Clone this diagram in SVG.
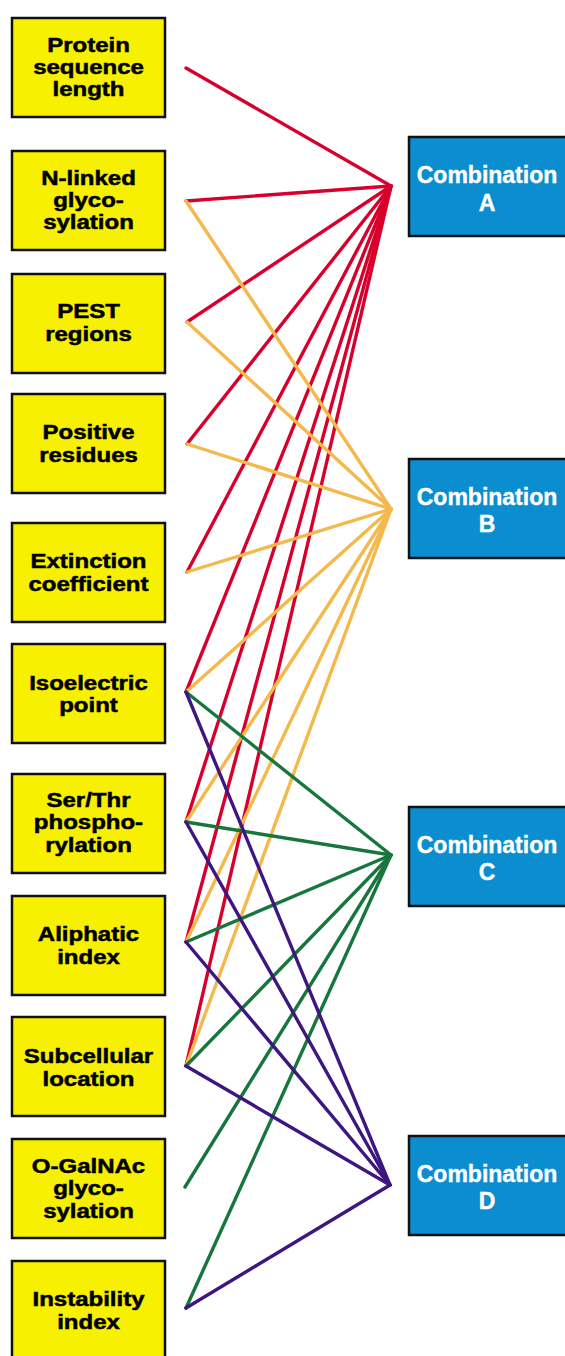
<svg xmlns="http://www.w3.org/2000/svg" width="565" height="1356" viewBox="0 0 565 1356">
<style>
.feat rect{fill:#f7f000;stroke:#111;stroke-width:2.5}
.feat text{font-family:"Liberation Sans",Arial,sans-serif;font-weight:bold;font-size:20px;fill:#000;stroke:#000;stroke-width:0.5;text-anchor:middle}
.comb rect{fill:#0a8ed0;stroke:#111;stroke-width:2.5}
.comb text{font-family:"Liberation Sans",Arial,sans-serif;font-weight:bold;font-size:23px;fill:#fff;stroke:#fff;stroke-width:0.4;text-anchor:middle}
#connectors line{stroke-width:3.4;stroke-linecap:round}
.r{stroke:#d8002b}.o{stroke:#f3b94c}.g{stroke:#17763c}.p{stroke:#3d1680}
</style>
<rect width="565" height="1356" fill="#fff"/>
<g id="connectors">
<g class="r">
<line x1="186" y1="68" x2="391" y2="186"/>
<line x1="186" y1="201" x2="391" y2="186"/>
<line x1="187" y1="322" x2="391" y2="186"/>
<line x1="187" y1="444" x2="391" y2="186"/>
<line x1="187" y1="572" x2="391" y2="186"/>
<line x1="186" y1="692" x2="391" y2="186"/>
<line x1="186" y1="822" x2="391" y2="186"/>
<line x1="186" y1="942" x2="391" y2="186"/>
<line x1="186" y1="1066" x2="391" y2="186"/>
</g>
<g class="o">
<line x1="186" y1="201" x2="391" y2="509"/>
<line x1="187" y1="322" x2="391" y2="509"/>
<line x1="187" y1="444" x2="391" y2="509"/>
<line x1="187" y1="572" x2="391" y2="509"/>
<line x1="186" y1="692" x2="391" y2="509"/>
<line x1="186" y1="822" x2="391" y2="509"/>
<line x1="186" y1="942" x2="391" y2="509"/>
<line x1="186" y1="1066" x2="391" y2="509"/>
</g>
<g class="g">
<line x1="186" y1="692" x2="391" y2="855"/>
<line x1="186" y1="822" x2="391" y2="855"/>
<line x1="186" y1="942" x2="391" y2="855"/>
<line x1="186" y1="1066" x2="391" y2="855"/>
<line x1="185" y1="1187" x2="391" y2="855"/>
<line x1="186" y1="1308" x2="391" y2="855"/>
</g>
<g class="p">
<line x1="186" y1="692" x2="390" y2="1185"/>
<line x1="186" y1="822" x2="390" y2="1185"/>
<line x1="186" y1="942" x2="390" y2="1185"/>
<line x1="186" y1="1066" x2="390" y2="1185"/>
<line x1="186" y1="1308" x2="390" y2="1185"/>
</g>
</g>
<g id="n1" class="feat"><rect x="12" y="18" width="153" height="99"/><g transform="translate(88.5,0) scale(1.2,1)"><text x="0" y="52">Protein</text><text x="0" y="74">sequence</text><text x="0" y="96">length</text></g></g>
<g id="n2" class="feat"><rect x="12" y="151" width="153" height="99"/><g transform="translate(88.5,0) scale(1.2,1)"><text x="0" y="185">N-linked</text><text x="0" y="207">glyco-</text><text x="0" y="229">sylation</text></g></g>
<g id="n3" class="feat"><rect x="12" y="274" width="153" height="99"/><g transform="translate(88.5,0) scale(1.2,1)"><text x="0" y="318">PEST</text><text x="0" y="341">regions</text></g></g>
<g id="n4" class="feat"><rect x="12" y="394" width="153" height="99"/><g transform="translate(88.5,0) scale(1.2,1)"><text x="0" y="439">Positive</text><text x="0" y="462">residues</text></g></g>
<g id="n5" class="feat"><rect x="12" y="523" width="153" height="99"/><g transform="translate(88.5,0) scale(1.2,1)"><text x="0" y="568">Extinction</text><text x="0" y="591">coefficient</text></g></g>
<g id="n6" class="feat"><rect x="12" y="644" width="153" height="99"/><g transform="translate(88.5,0) scale(1.2,1)"><text x="0" y="690">Isoelectric</text><text x="0" y="712">point</text></g></g>
<g id="n7" class="feat"><rect x="12" y="774" width="153" height="99"/><g transform="translate(88.5,0) scale(1.2,1)"><text x="0" y="807">Ser/Thr</text><text x="0" y="829">phospho-</text><text x="0" y="852">rylation</text></g></g>
<g id="n8" class="feat"><rect x="12" y="896" width="153" height="99"/><g transform="translate(88.5,0) scale(1.2,1)"><text x="0" y="941">Aliphatic</text><text x="0" y="964">index</text></g></g>
<g id="n9" class="feat"><rect x="12" y="1017" width="153" height="99"/><g transform="translate(88.5,0) scale(1.2,1)"><text x="0" y="1063">Subcellular</text><text x="0" y="1086">location</text></g></g>
<g id="n10" class="feat"><rect x="12" y="1139" width="153" height="99"/><g transform="translate(88.5,0) scale(1.2,1)"><text x="0" y="1173">O-GalNAc</text><text x="0" y="1195">glyco-</text><text x="0" y="1218">sylation</text></g></g>
<g id="n11" class="feat"><rect x="12" y="1261" width="153" height="99"/><g transform="translate(88.5,0) scale(1.2,1)"><text x="0" y="1306">Instability</text><text x="0" y="1329">index</text></g></g>
<g id="cA" class="comb"><rect x="409" y="137" width="160" height="99"/><text x="487" y="183">Combination</text><text x="487" y="211">A</text></g>
<g id="cB" class="comb"><rect x="409" y="459" width="160" height="99"/><text x="487" y="505">Combination</text><text x="487" y="532">B</text></g>
<g id="cC" class="comb"><rect x="409" y="807" width="160" height="99"/><text x="487" y="853">Combination</text><text x="487" y="880">C</text></g>
<g id="cD" class="comb"><rect x="409" y="1136" width="160" height="99"/><text x="487" y="1182">Combination</text><text x="487" y="1209">D</text></g>
</svg>
